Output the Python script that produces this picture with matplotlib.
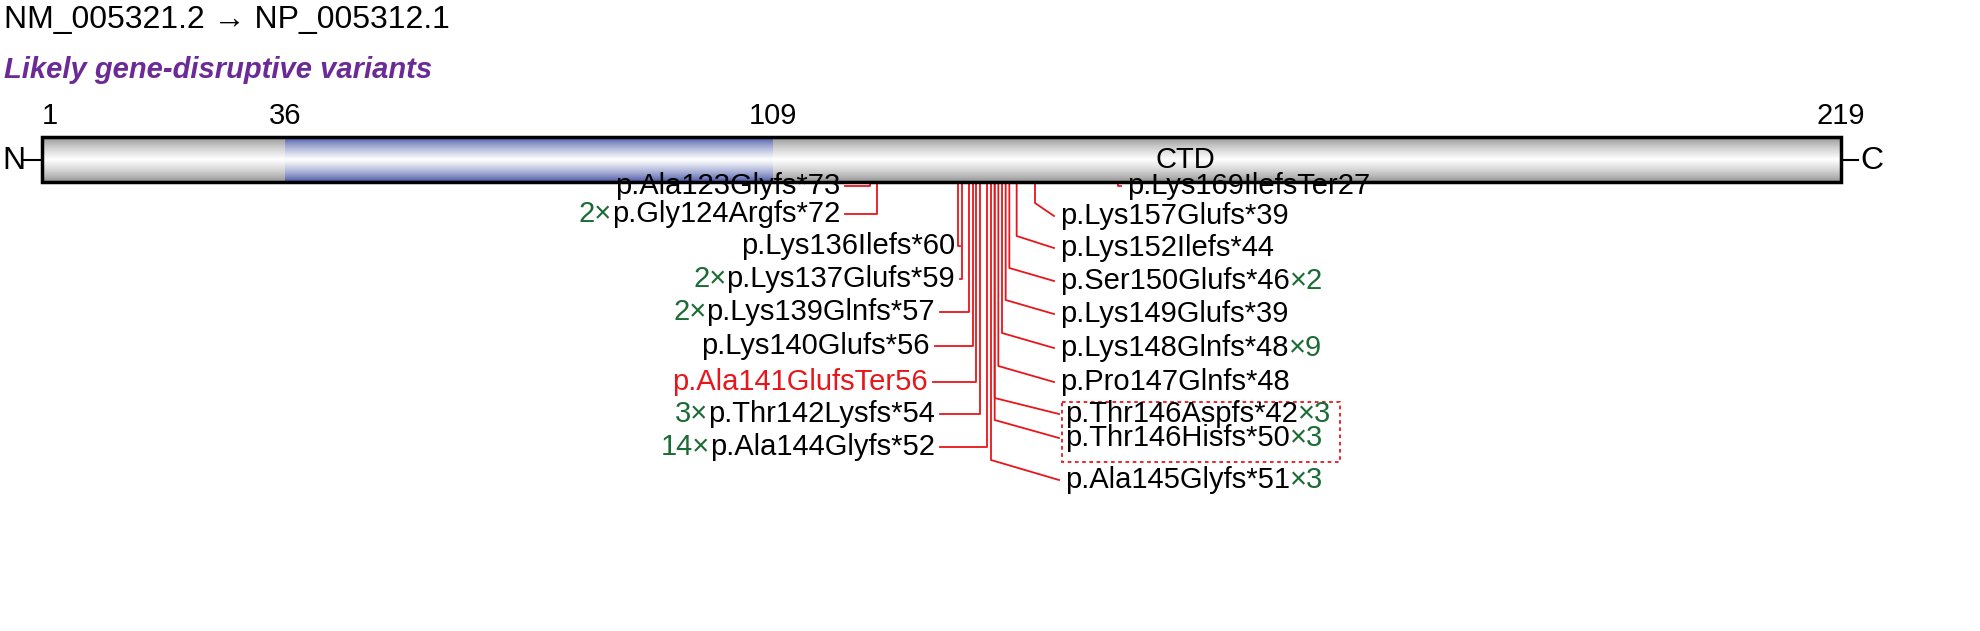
import numpy as np
import matplotlib
matplotlib.use("Agg")
import matplotlib.pyplot as plt

plt.rcParams['font.family'] = ['Liberation Sans', 'DejaVu Sans']

# ---- data ----
domain_bounds = [1, 36, 109, 219]
left_names = ["p.Ala123Glyfs*73", "p.Gly124Argfs*72", "p.Lys136Ilefs*60", "p.Lys137Glufs*59",
              "p.Lys139Glnfs*57", "p.Lys140Glufs*56", "p.Ala141GlufsTer56", "p.Thr142Lysfs*54",
              "p.Ala144Glyfs*52"]
left_pos = [123, 124, 136, 137, 139, 140, 141, 142, 144]
left_counts = [1, 2, 1, 2, 2, 1, 1, 3, 14]
right_names = ["p.Lys169IlefsTer27", "p.Lys157Glufs*39", "p.Lys152Ilefs*44", "p.Ser150Glufs*46",
               "p.Lys149Glufs*39", "p.Lys148Glnfs*48", "p.Pro147Glnfs*48", "p.Thr146Aspfs*42",
               "p.Thr146Hisfs*50", "p.Ala145Glyfs*51"]
right_pos = [169, 157, 152, 150, 149, 148, 147, 146, 146, 145]
right_counts = [1, 1, 1, 2, 1, 9, 1, 3, 3, 3]
highlight = "p.Ala141GlufsTer56"

# ---- schematic residue scale (piecewise, as drawn) ----
scale_res = [1, 36, 109, 123, 136, 157, 169, 219]
scale_px = [42, 285, 773, 870, 958, 1035, 1118, 1841]
def X(r):
    return float(np.interp(r, scale_res, scale_px))

W, H = 1980, 631
fig = plt.figure(figsize=(W / 100, H / 100), dpi=100)
ax = fig.add_axes([0, 0, 1, 1])
ax.axis("off")

RED = "#e8161b"; GREEN = "#1b6b35"; FS = 21
bar_top, bar_bot = 137, 182

def grad(c_edge):
    t = np.linspace(0, 1, 64)
    prof = 1 - np.abs(t - 0.5) * 2
    prof = prof ** 0.7
    edge = np.array(matplotlib.colors.to_rgb(c_edge))
    img = edge[None, :] * (1 - prof[:, None]) + np.ones(3)[None, :] * prof[:, None]
    return img[:, None, :]

segs = [(domain_bounds[0], domain_bounds[1], "#8a8a8a"), (domain_bounds[1], domain_bounds[2], "#3a4aa0"),
        (domain_bounds[2], domain_bounds[3], "#8a8a8a")]
for a, b, c in segs:
    ax.imshow(grad(c), extent=(X(a), X(b), bar_bot, bar_top), aspect="auto", interpolation="bilinear", zorder=1)
ax.set_xlim(0, W); ax.set_ylim(H, 0)
ax.add_patch(plt.Rectangle((X(1), bar_top), X(219) - X(1), bar_bot - bar_top, fill=False, lw=2.5, ec="black", zorder=3))
ax.plot([24, X(1)], [160, 160], color="black", lw=1.5)
ax.plot([X(219), 1858], [160, 160], color="black", lw=1.5)
ax.text(2, 161, "N", fontsize=23, va="center", ha="left")
ax.text(1860, 161, "C", fontsize=23, va="center", ha="left")
for r in domain_bounds:
    ax.text(X(r), 130, str(r), fontsize=FS, ha="center" if r != 1 else "left", va="bottom")
ax.text(1185, 160, "CTD", fontsize=FS, ha="center", va="center")

ax.text(4, 20, "NM_005321.2 → NP_005312.1", fontsize=23, va="center", ha="left")
ax.text(4, 70, "Likely gene-disruptive variants", fontsize=21, va="center", ha="left",
        color="#6b2a96", fontweight="bold", fontstyle="italic")

fig.canvas.draw()
rend = fig.canvas.get_renderer()

def width_px(t):
    return t.get_window_extent(rend).width

left_y = [186, 214, 246, 279, 312, 346, 382, 414, 447]
left_end = [840, 840, 955, 955, 935, 930, 928, 935, 935]
for name, r, n, y, xe in zip(left_names, left_pos, left_counts, left_y, left_end):
    col = RED if name == highlight else "black"
    t = ax.text(xe, y, name, fontsize=FS, ha="right", va="center", color=col)
    if n > 1:
        ax.text(xe - width_px(t), y, f"{n}×", fontsize=FS, ha="right", va="center", color=GREEN)
    xa = X(r)
    ax.plot([xe + 5, xa, xa], [y, y, bar_bot], color=RED, lw=1.3, zorder=0)

right_y = [186, 216, 248, 281, 314, 348, 382, 414, 438, 480]
right_start = [1127, 1060, 1060, 1060, 1060, 1060, 1060, 1065, 1065, 1065]
right_bend = [186, 203, 236, 268, 300, 333, 366, 398, 420, 460]
for name, r, n, y, xs, yb in zip(right_names, right_pos, right_counts, right_y, right_start, right_bend):
    t = ax.text(xs, y, name, fontsize=FS, ha="left", va="center", color="black")
    if n > 1:
        ax.text(xs + width_px(t), y, f"×{n}", fontsize=FS, ha="left", va="center", color=GREEN)
    xa = X(r)
    ax.plot([xa, xa, xs - 6], [bar_bot, yb, y], color=RED, lw=1.3, zorder=0)

ax.add_patch(plt.Rectangle((1062, 402), 278, 60, fill=False, ec=RED, ls=(0, (2, 2)), lw=1.3))

fig.savefig("out.png", dpi=100)
